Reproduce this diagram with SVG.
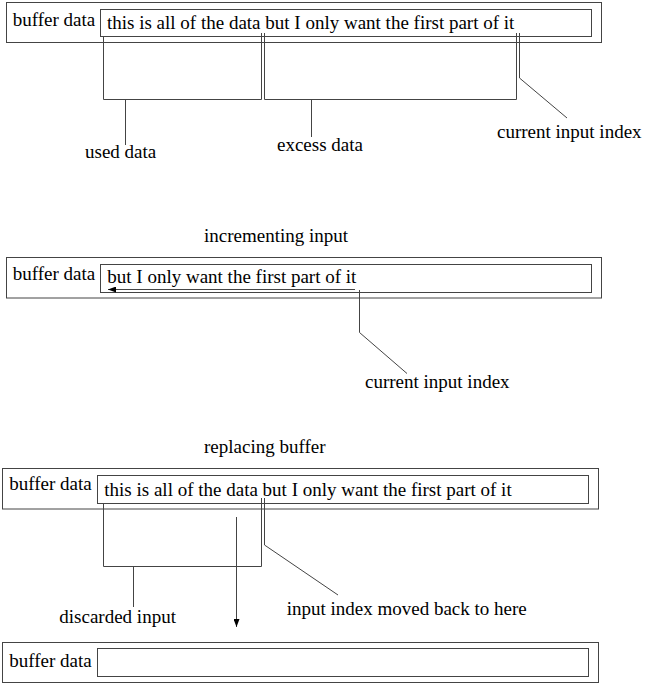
<svg xmlns="http://www.w3.org/2000/svg" width="648" height="686" viewBox="0 0 648 686">
<style>
.box{fill:none;stroke:#444;stroke-width:1}
.ln{fill:none;stroke:#444;stroke-width:1}
text{font-family:"Liberation Serif","Times New Roman",serif;font-size:19px;fill:#000}
</style>
<defs>
<marker id="ah" markerUnits="userSpaceOnUse" markerWidth="9" markerHeight="6" refX="8" refY="3" orient="auto">
<path d="M0,0 L8,3 L0,6 z" fill="#000"/>
</marker>
</defs>
<rect width="648" height="686" fill="#fff"/>

<g id="buffer1">
<rect class="box" x="6.5" y="2.5" width="595" height="40"/>
<rect class="box" x="100.5" y="9.5" width="491" height="27"/>
<text x="12.7" y="25.5">buffer data</text>
<text x="107" y="29.3">this is all of the data but I only want the first part of it</text>
</g>
<g id="labels1">
<text x="85" y="158">used data</text>
<text x="277" y="150.5">excess data</text>
<text x="497" y="138">current input index</text>
</g>

<text x="204" y="242">incrementing input</text>
<g id="buffer2">
<rect class="box" x="6.5" y="257.5" width="595" height="40.5"/>
<rect class="box" x="100.5" y="264.5" width="491" height="28"/>
<text x="12.7" y="280">buffer data</text>
<text x="107.3" y="283.3">but I only want the first part of it</text>
</g>
<g id="labels2">
<text x="365" y="388.3">current input index</text>
</g>

<text x="204" y="452.5">replacing buffer</text>
<g id="buffer3">
<rect class="box" x="2.5" y="468.5" width="596" height="40.5"/>
<rect class="box" x="97.5" y="475.5" width="491" height="28"/>
<text x="9.3" y="490">buffer data</text>
<text x="104.3" y="495.5">this is all of the data but I only want the first part of it</text>
</g>
<g id="labels3">
<text x="59.3" y="622.5">discarded input</text>
<text x="286.7" y="615">input index moved back to here</text>
</g>

<g id="buffer4">
<rect class="box" x="2.5" y="642.5" width="596" height="40"/>
<rect class="box" x="97.5" y="648.5" width="491" height="28"/>
<text x="9.3" y="666.7">buffer data</text>
</g>

<g id="connectors">
<path class="ln" d="M103.5,37 V99.5 H261.5 V33"/>
<path class="ln" d="M264.5,33 V99.5 H516.5 V33"/>
<path class="ln" d="M519.5,33 V78 L567,118"/>
<path class="ln" d="M125.5,100 V145"/>
<path class="ln" d="M311.5,100 V137"/>

<path class="ln" d="M355,289.5 H108" marker-end="url(#ah)"/>
<path class="ln" d="M359.5,290 V332.5 L407,373.5"/>

<path class="ln" d="M103.5,503 V566.5 H261.5 V498"/>
<path class="ln" d="M133.5,566.5 V607"/>
<path class="ln" d="M264.5,498 V545 L338,595"/>
<path class="ln" d="M236.5,517 V627" marker-end="url(#ah)"/>
</g>
</svg>
